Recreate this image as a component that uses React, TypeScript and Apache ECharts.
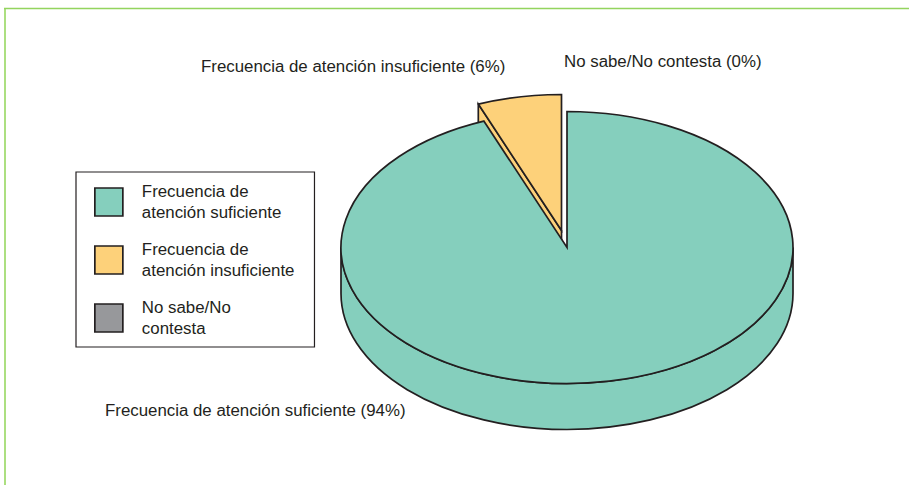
import React, { useEffect, useRef } from "react";
import * as echarts from "echarts";

const categories = [
  "Frecuencia de atención suficiente",
  "Frecuencia de atención insuficiente",
  "No sabe/No contesta",
];
const legendLabels = [
  "Frecuencia de\natención suficiente",
  "Frecuencia de\natención insuficiente",
  "No sabe/No\ncontesta",
];
const values = [94, 6, 0];
const colors = ["#85cfbd", "#fdd17a", "#97989b"];

const LINE = "#231f20";
const FONT = "'Liberation Sans', Arial, sans-serif";
const FONT_SIZE = 16.85;
const CX = 567;
const CY = 247.5;
const RX = 226;
const RY = 136;
const DEPTH = 46;
const EXPLODE = [-5.5, -17];

const total = values.reduce((a, b) => a + b, 0);

function pt(cx: number, cy: number, a: number): [number, number] {
  return [cx + RX * Math.sin(a), cy - RY * Math.cos(a)];
}

function arcTo(p: [number, number], large: boolean, sweep: boolean) {
  return `A${RX} ${RY} 0 ${large ? 1 : 0} ${sweep ? 1 : 0} ${p[0]} ${p[1]}`;
}

function sliceChildren(index: number, color: string) {
  const value = values[index];
  if (!value) return [];
  // Slices are laid out clockwise from 12 o'clock.
  const before = values.slice(0, index).reduce((a, b) => a + b, 0);
  const start = (before / total) * Math.PI * 2;
  const end = ((before + value) / total) * Math.PI * 2;
  const [dx, dy] = index === 0 ? [0, 0] : EXPLODE;
  const cx = CX + dx;
  const cy = CY + dy;
  const s = pt(cx, cy, start);
  const e = pt(cx, cy, end);
  const large = end - start > Math.PI;
  const style = { fill: color, stroke: LINE, lineWidth: 1.7, lineJoin: "miter" };
  const children: any[] = [];
  if (index === 0) {
    const l = pt(cx, cy, Math.PI * 1.5);
    const r = pt(cx, cy, Math.PI * 0.5);
    children.push({
      type: "path",
      shape: {
        pathData:
          `M${l[0]} ${l[1]}L${l[0]} ${l[1] + DEPTH}` +
          arcTo([r[0], r[1] + DEPTH], true, false) +
          `L${r[0]} ${r[1]}` +
          arcTo(l, true, true) +
          "Z",
      },
      style,
    });
  } else {
    children.push({
      type: "path",
      shape: {
        pathData:
          `M${s[0]} ${s[1]}L${s[0]} ${s[1] + DEPTH}L${cx} ${cy + DEPTH}L${cx} ${cy}Z`,
      },
      style,
    });
  }
  children.push({
    type: "path",
    shape: {
      pathData: `M${cx} ${cy}L${s[0]} ${s[1]}` + arcTo(e, large, true) + "Z",
    },
    style,
  });
  return children;
}

function label(i: number) {
  return `${categories[i]} (${values[i]}%)`;
}

const labelPositions: [number, number][] = [
  [105, 410],
  [201, 66],
  [564, 61],
];

export default function App() {
  const ref = useRef<HTMLDivElement>(null);
  useEffect(() => {
    const chart = echarts.init(ref.current!, null, { renderer: "svg" });
    chart.setOption({
      animation: false,
      backgroundColor: "#ffffff",
      legend: {
        orient: "vertical",
        left: 76,
        top: 172,
        padding: [7, 20, 6, 18],
        itemGap: 12,
        itemWidth: 28,
        itemHeight: 28,
        selectedMode: false,
        borderColor: LINE,
        borderWidth: 1.2,
        backgroundColor: "#ffffff",
        icon: "rect",
        textStyle: {
          fontFamily: FONT,
          fontSize: FONT_SIZE,
          color: LINE,
          lineHeight: 21.5,
          padding: [3, 0, 0, 14],
        },
        itemStyle: { borderColor: LINE, borderWidth: 1.7 },
        data: legendLabels,
      },
      series: legendLabels.map((name, i) => ({
        type: "custom",
        name,
        coordinateSystem: "none",
        silent: true,
        z: i === 0 ? 3 : 2,
        itemStyle: { color: colors[i] },
        data: [[values[i]]],
        renderItem: () => ({ type: "group", children: sliceChildren(i, colors[i]) }),
      })),
      graphic: [
        {
          type: "polyline",
          z: 0,
          silent: true,
          shape: { points: [[5, 485], [5, 8]] },
          style: { fill: "none", stroke: "#acdf80", lineWidth: 2 },
        },
        {
          type: "polyline",
          z: 0,
          silent: true,
          shape: { points: [[4, 8.5], [909, 8.5]] },
          style: { fill: "none", stroke: "#93d45e", lineWidth: 1.5 },
        },
        ...labelPositions.map((p, i) => ({
          type: "text",
          x: p[0],
          y: p[1],
          silent: true,
          style: {
            text: label(i),
            fontFamily: FONT,
            fontSize: FONT_SIZE,
            fill: LINE,
            verticalAlign: "middle",
            textAlign: "left",
          },
        })),
      ],
    });
    return () => chart.dispose();
  }, []);
  return (
    <div
      ref={ref}
      style={{ position: "fixed", left: 0, top: 0, width: 909, height: 485 }}
    />
  );
}
